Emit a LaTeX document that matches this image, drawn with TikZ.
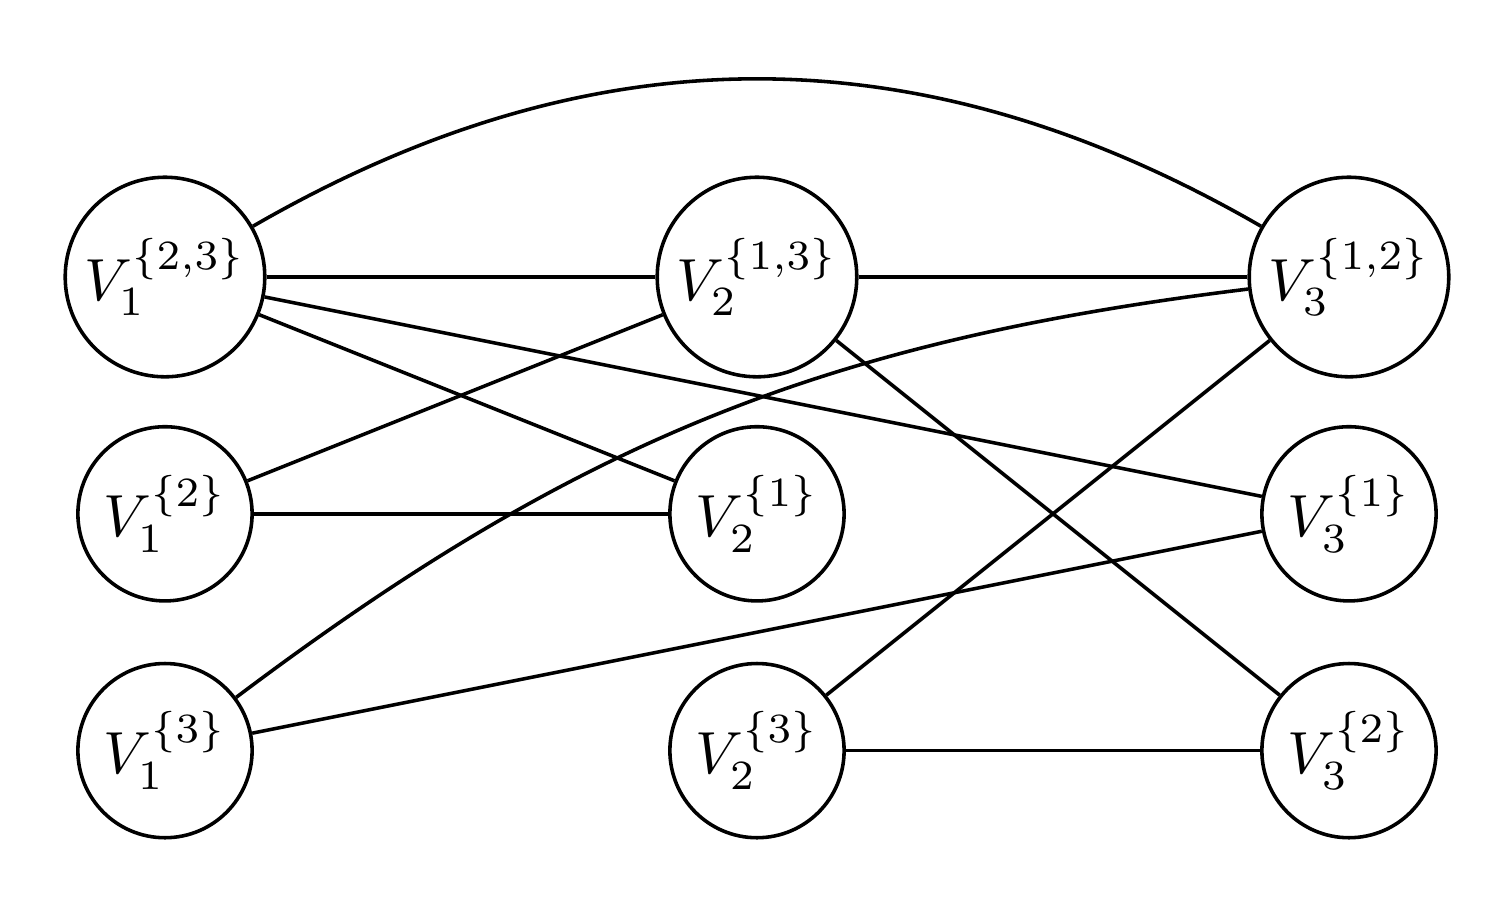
\documentclass[tikz,border=0pt]{standalone}
\usepackage{amsmath}
\usepackage{tikz}
\usetikzlibrary{arrows.meta}

\begin{document}
\begin{tikzpicture}[
    big/.style={circle, draw, semithick, minimum size=1.18cm, inner sep=0pt},
    small/.style={circle, draw, semithick, minimum size=1.03cm, inner sep=0pt},
    edge/.style={semithick}
]
\useasboundingbox (-0.9755,-3.742) rectangle (7.9045,1.638);
\node[big] (a23) at (0,0) {$V_1^{\{2,3\}}$};
\node[small] (a2) at (0,-1.4) {$V_1^{\{2\}}$};
\node[small] (a3) at (0,-2.8) {$V_1^{\{3\}}$};
\node[big] (b13) at (3.5,0) {$V_2^{\{1,3\}}$};
\node[small] (b1) at (3.5,-1.4) {$V_2^{\{1\}}$};
\node[small] (b3) at (3.5,-2.8) {$V_2^{\{3\}}$};
\node[big] (c12) at (7,0) {$V_3^{\{1,2\}}$};
\node[small] (c1) at (7,-1.4) {$V_3^{\{1\}}$};
\node[small] (c2) at (7,-2.8) {$V_3^{\{2\}}$};

\draw[edge] (a23) -- (b13);
\draw[edge] (b13) -- (c12);
\draw[edge] (a23) to[bend left=30] (c12);
\draw[edge] (a23) -- (b1);
\draw[edge] (a23) -- (c1);
\draw[edge] (a2) -- (b13);
\draw[edge] (a2) -- (b1);
\draw[edge] (a3) to[bend left=15] (c12);
\draw[edge] (a3) -- (c1);
\draw[edge] (b13) -- (c2);
\draw[edge] (b3) -- (c12);
\draw[edge] (b3) -- (c2);
\end{tikzpicture}
\end{document}
